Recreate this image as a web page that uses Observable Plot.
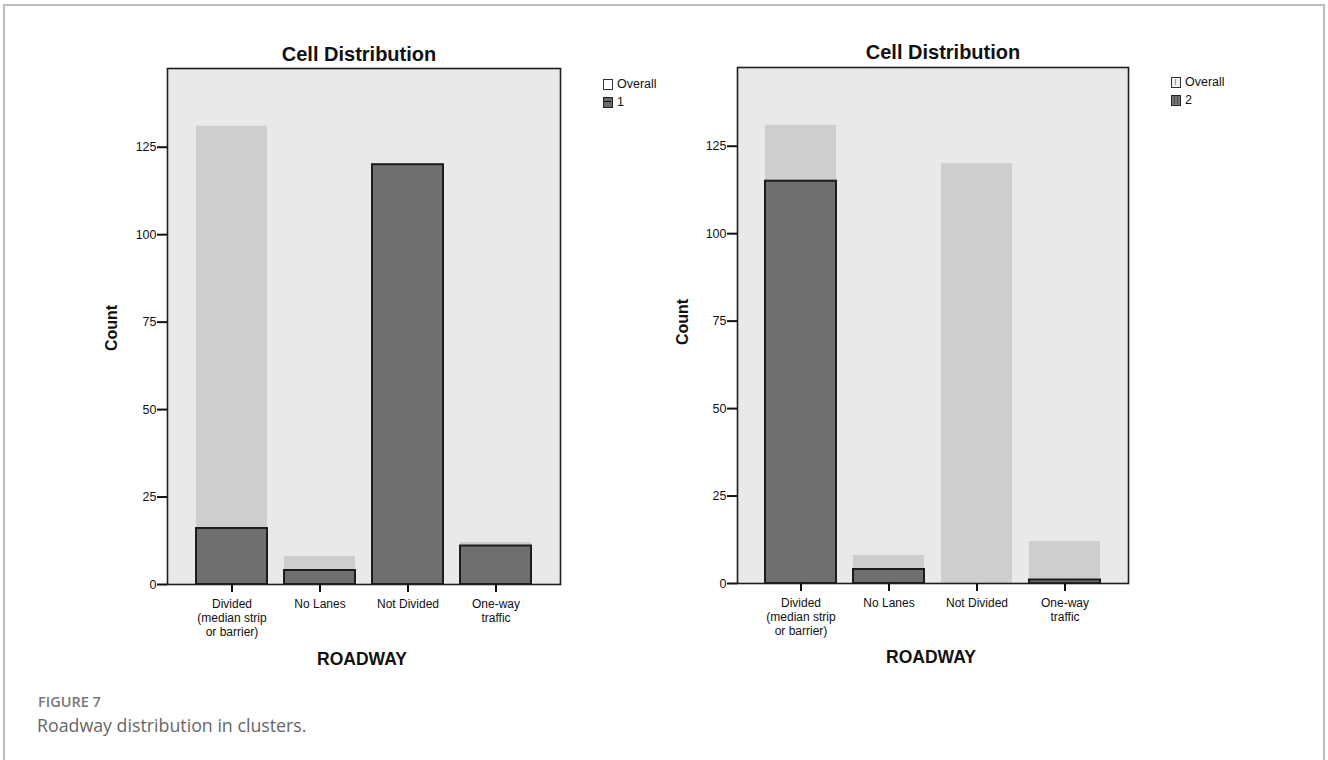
<!DOCTYPE html>
<html>
<head>
<meta charset="utf-8">
<script src="https://cdn.jsdelivr.net/npm/d3@7"></script>
<script src="https://cdn.jsdelivr.net/npm/@observablehq/plot@0.6"></script>
<style>
  html, body { margin: 0; padding: 0; background: #fff; }
  body { width: 1328px; height: 760px; position: relative; overflow: hidden; font-family: "Liberation Sans", Arial, sans-serif; }
  #border { position: absolute; left: 3px; top: 4px; width: 1322px; height: 820px; border: 2px solid #bdbdbd; box-sizing: border-box; }
  .panel { position: absolute; top: 0; }
  .abs { position: absolute; white-space: nowrap; color: #111; }
  .title { font-weight: bold; font-size: 20px; text-align: center; width: 300px; line-height: 22px; }
  .xlabel { font-weight: bold; font-size: 17.5px; text-align: center; width: 200px; line-height: 20px; }
  .ylabel { font-weight: bold; font-size: 16px; text-align: center; width: 100px; line-height: 18px; transform: rotate(-90deg); }
  .leg { font-size: 12.5px; line-height: 14px; display: flex; align-items: center; }
  .sw { width: 10px; height: 11px; box-sizing: border-box; border: 1.5px solid #333; margin-right: 4px; position: relative; }
  .cap1 { font-family: "Open Sans", sans-serif; font-weight: 600; font-size: 14.5px; color: #777; }
  .cap2 { font-family: "Open Sans", sans-serif; font-weight: 400; font-size: 17.8px; color: #666; }
</style>
</head>
<body>
<div id="border"></div>
<div id="left" class="panel" style="left:0px"></div>
<div id="right" class="panel" style="left:664px"></div>
<script>
// ---- data ----
const categories = ["Divided\n(median strip\nor barrier)", "No Lanes", "Not Divided", "One-way\ntraffic"];
const overall = [131, 8, 120, 12];
const cluster1 = [16, 4, 120, 11];
const cluster2 = [115, 4, 0, 1];
const yTicks = [0, 25, 50, 75, 100, 125];
const titleText = "Cell Distribution";
const xLabelText = "ROADWAY";
const yLabelText = "Count";
const legendLabels = [["Overall", "1"], ["Overall", "2"]];

function table(vals) {
  return categories.map((c, i) => ({ cat: c, value: vals[i] })).filter(d => d.value > 0);
}

function panel(clusterVals, m, padOuter) {
  return Plot.plot({
    width: 664,
    height: 700,
    marginLeft: m.left,
    marginRight: m.right,
    marginTop: m.top,
    marginBottom: m.bottom,
    style: { background: "transparent", overflow: "visible", fontFamily: "'Liberation Sans', Arial, sans-serif", color: "#111" },
    x: { type: "band", domain: categories, paddingInner: 0.19, paddingOuter: padOuter, align: 0.5 },
    y: { domain: [0, 147.5] },
    marks: [
      Plot.frame({ fill: "#e9e9e9", stroke: "none" }),
      Plot.barY(table(overall), { x: "cat", y: "value", fill: "#cecece" }),
      Plot.barY(table(clusterVals), { x: "cat", y: "value", fill: "#6f6f6f", stroke: "#1c1c1c", strokeWidth: 2 }),
      Plot.frame({ stroke: "#1e1e1e", strokeWidth: 1.6 }),
      Plot.axisY({ ticks: yTicks, tickSize: 10, tickPadding: 1, strokeWidth: 2, fontSize: 12.5, label: null, tickFormat: d => String(d) }),
      Plot.axisX({ tickSize: 8, tickPadding: 5, strokeWidth: 2, fontSize: 12, lineHeight: 1.18, label: null })
    ]
  });
}

document.getElementById("left").appendChild(panel(cluster1, { left: 167, right: 104, top: 68, bottom: 116 }, 0.32));
document.getElementById("right").appendChild(panel(cluster2, { left: 73, right: 200, top: 67, bottom: 117 }, 0.31));

// ---- text ----
function addText(cls, text, left, top) {
  const el = document.createElement("div");
  el.className = "abs " + cls;
  el.textContent = text;
  el.style.left = left + "px";
  el.style.top = top + "px";
  document.body.appendChild(el);
  return el;
}
// titles
addText("title", titleText, 359 - 150, 54 - 11);
addText("title", titleText, 943 - 150, 52 - 11);
// x labels
addText("xlabel", xLabelText, 362 - 100, 659 - 10);
addText("xlabel", xLabelText, 931 - 100, 657 - 10);
// y labels
addText("ylabel", yLabelText, 112 - 50, 328 - 9);
addText("ylabel", yLabelText, 683 - 50, 322 - 9);

// legends
function legend(left, top, labels, k) {
  const wrap = document.createElement("div");
  wrap.className = "abs";
  wrap.style.left = left + "px";
  wrap.style.top = top + "px";
  labels.forEach((lab, i) => {
    const row = document.createElement("div");
    row.className = "leg";
    row.style.marginBottom = "4px";
    const sw = document.createElement("div");
    sw.className = "sw";
    if (i === 0) {
      sw.style.background = k === 0 ? "#ffffff" : "#efefef";
      if (k === 1) sw.innerHTML = '<div style="position:absolute;left:3px;top:1px;width:1px;height:6px;background:#999"></div>';
    } else {
      sw.style.background = k === 0 ? "#6a6a6a" : "#777";
      sw.style.borderColor = "#222";
      sw.innerHTML = k === 0
        ? '<div style="position:absolute;left:0;top:3px;width:7px;height:1.5px;background:#111"></div>'
        : '<div style="position:absolute;left:2px;top:0;width:1px;height:8px;background:#444"></div><div style="position:absolute;left:4.5px;top:0;width:1px;height:8px;background:#444"></div>';
    }
    const t = document.createElement("span");
    t.textContent = lab;
    row.appendChild(sw);
    row.appendChild(t);
    wrap.appendChild(row);
  });
  document.body.appendChild(wrap);
}
legend(603, 77, legendLabels[0], 0);
legend(1171, 75, legendLabels[1], 1);

// caption
addText("cap1", "FIGURE 7", 38, 692);
addText("cap2", "Roadway distribution in clusters.", 37, 713);
</script>
</body>
</html>
